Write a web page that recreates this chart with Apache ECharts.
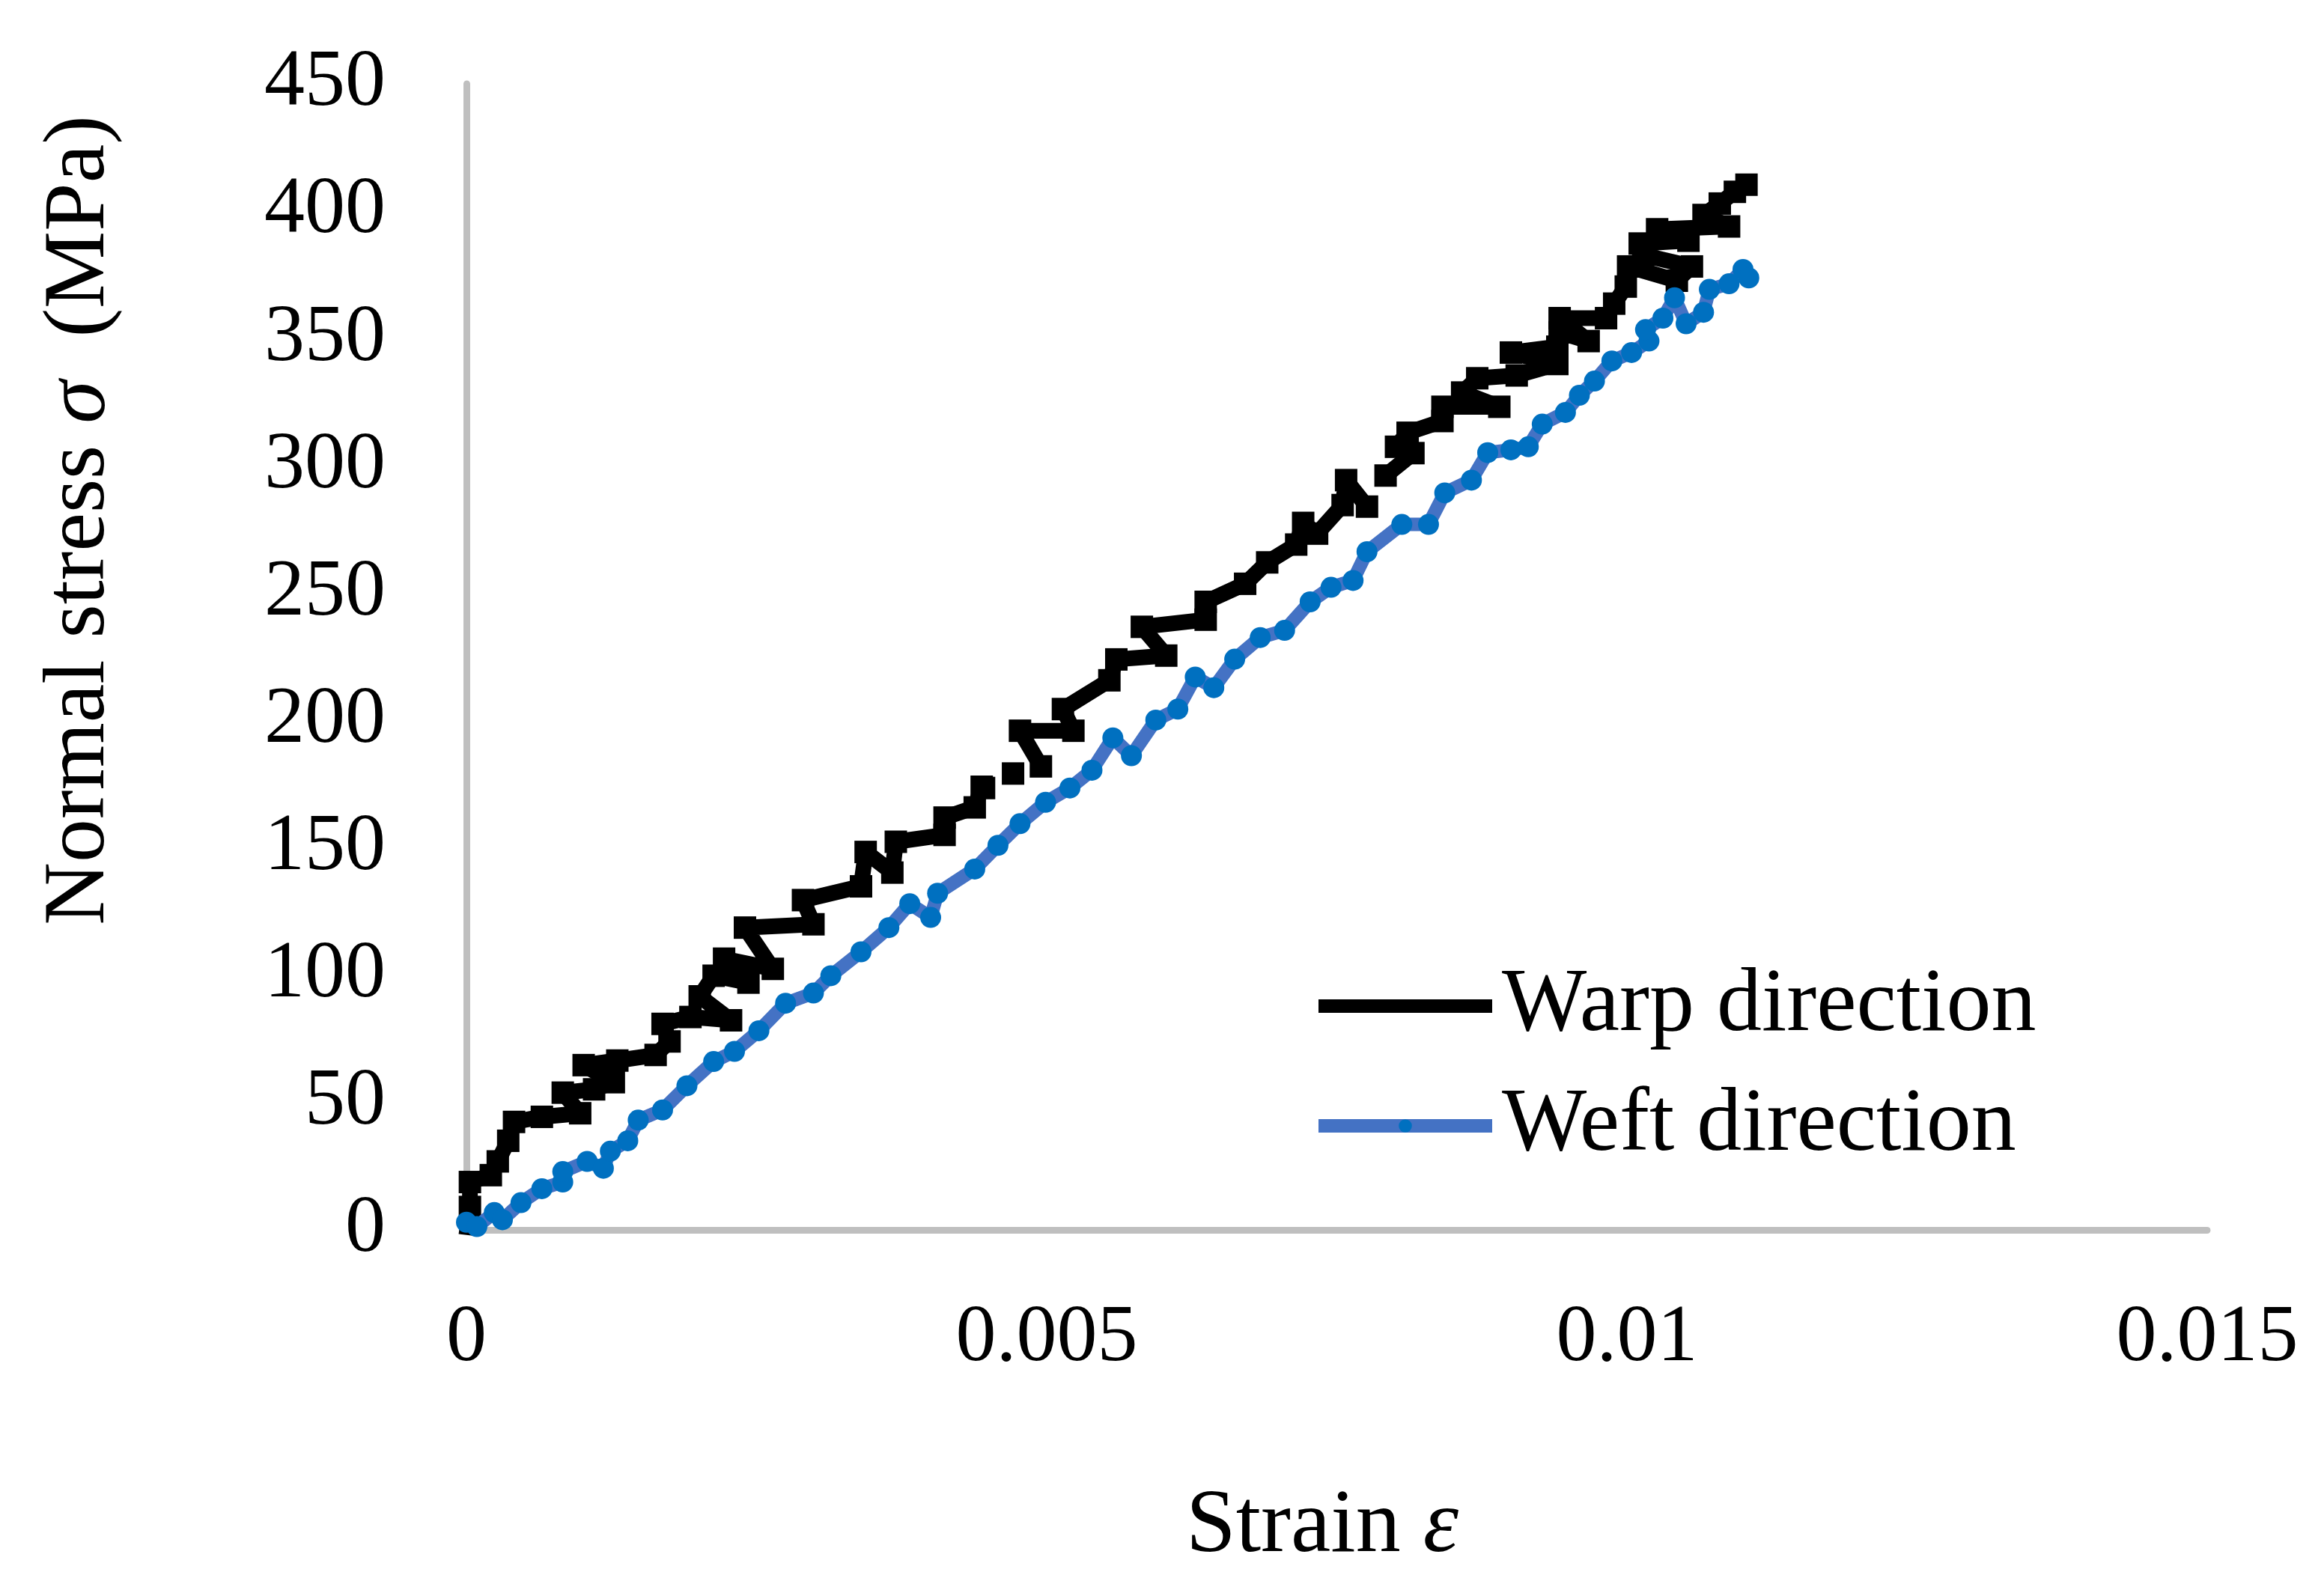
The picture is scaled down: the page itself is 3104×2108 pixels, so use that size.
<!DOCTYPE html>
<html>
<head>
<meta charset="utf-8">
<script src="https://cdn.jsdelivr.net/npm/echarts@6/dist/echarts.min.js"></script>
<style>
html,body{margin:0;padding:0;background:#fff;}
#chart{width:3104px;height:2108px;}
</style>
</head>
<body>
<div id="chart"></div>
<script>
// ---- data ----
const seriesNames = ['Warp direction', 'Weft direction'];

const warpStrain = [0, 0.00003, 0.00003, 0.00021, 0.00027, 0.00036, 0.00041, 0.00065, 0.00098, 0.00083,
  0.0011, 0.00127, 0.00101, 0.0013, 0.00163, 0.00175, 0.00169, 0.00193, 0.00228, 0.00201,
  0.00213, 0.00243, 0.00222, 0.00264, 0.0024, 0.00299, 0.0029, 0.0034, 0.00344, 0.00367,
  0.0037, 0.00412, 0.00412, 0.00438, 0.00444, null, 0.00446, null, 0.00471, null,
  0.00495, 0.00477, 0.00523, 0.00514, 0.00554, 0.0056, 0.00603, 0.00582, 0.00637, 0.00637,
  0.00671, 0.0069, 0.00715, 0.00721, 0.00733, 0.00755, 0.00758, 0.00776, null,
  0.00792, 0.00816, 0.00801, 0.00811, 0.00841, 0.00841, 0.0089, 0.00858, 0.00871, 0.00905,
  0.0094, 0.009, 0.0094, 0.00942, 0.00967, 0.00942, 0.00982, 0.00989, 0.00999, 0.01001,
  0.01043, 0.01056, 0.01014, 0.01011, 0.01053, 0.01026, 0.01088, 0.01066, 0.0108, 0.01093, 0.01103];
const warpStress = [-2, 9, 18.8, 21.5, 26.9, 35, 42.4, 44.4, 45.8, 53.9,
  55.2, 58, 64.7, 66.5, 68.7, 74, 80.9, 83.6, 82.3, 91.7,
  99.8, 97.1, 106.5, 102.5, 118.7, 120, 129.5, 134.9, 148.4, 140.3,
  152.4, 155.1, 161.9, 165.9, 174, null, 173.5, null, 179.2, null,
  182, 196, 196, 204.5, 215.8, 224, 225.5, 236.8, 239.6, 246.6,
  253.7, 262.1, 269.1, 277.6, 273.4, 284.6, 294.4, 284, null,
  296.2, 305, 307.5, 313, 317.6, 323.2, 323.2, 328.8, 334.4, 335.5,
  340, 344.5, 346.8, 352.4, 349, 358, 358, 363.7, 370.4, 378.3,
  372.7, 378.3, 382.8, 387.3, 388.4, 392.9, 394, 398.5, 403, 407.6, 410.4];

const weftStrain = [0, 0.00009, 0.00024, 0.00031, 0.00047, 0.00065, 0.00083, 0.00083, 0.00104, 0.00118,
  0.00124, 0.00139, 0.00148, 0.00169, 0.0019, 0.00213, 0.00231, 0.00252, 0.00275, 0.00299,
  0.00314, 0.0034, 0.00364, 0.00382, 0.004, 0.00406, 0.00438, 0.00458, 0.00477, 0.00499,
  0.0052, 0.00539, 0.00557, 0.00573, 0.00594, 0.00613, 0.00628, 0.00644, 0.00662, 0.00684,
  0.00705, 0.00727, 0.00745, 0.00764, 0.00776, 0.00806, 0.00829, 0.00843, 0.00866, 0.0088,
  0.009, 0.00915, 0.00927, 0.00947, 0.00959, 0.00972, 0.00987, 0.01004, 0.01019, 0.01016,
  0.01031, 0.01041, 0.01051, 0.01066, 0.01071, 0.01088, 0.011, 0.01105];
const weftStress = [3, 1.3, 6.8, 4, 10.7, 16.2, 18.8, 22.9, 26.9, 24.2,
  30.9, 35, 43.1, 47.1, 56.6, 66.1, 70.1, 78.2, 89, 93,
  99.8, 109.2, 118.7, 128.1, 122.7, 132.2, 141.7, 151, 159.5, 167.9,
  173.5, 180.5, 193.2, 186.2, 200.2, 204.5, 217.1, 212.9, 224.1, 232.6,
  235.4, 246.6, 252.3, 255, 266.3, 277, 277, 289.4, 294.4, 305.2,
  306.3, 307.5, 316.4, 321, 327.7, 333.3, 341.2, 344.5, 349, 353.5,
  358, 366, 355.8, 360.3, 369.3, 371.5, 377.1, 373.8];

const xTicks = [0, 0.005, 0.01, 0.015];
const yTicks = [0, 50, 100, 150, 200, 250, 300, 350, 400, 450];

// ---- chart ----
function pairs(xs, ys) {
  return xs.map((x, i) => (x === null ? ['-', '-'] : [x, ys[i]]));
}

const FONT = "'Liberation Serif', 'Times New Roman', serif";
const chart = echarts.init(document.getElementById('chart'), null, { renderer: 'canvas' });

chart.setOption({
  backgroundColor: '#ffffff',
  animation: false,
  grid: { left: 623, top: 112, right: 156, bottom: 465, containLabel: false },
  xAxis: {
    type: 'value',
    min: xTicks[0], max: xTicks[xTicks.length - 1], interval: xTicks[1] - xTicks[0],
    axisLine: { show: true, onZero: false, lineStyle: { color: '#BFBFBF', width: 9 } },
    axisTick: { show: false },
    splitLine: { show: false },
    axisLabel: { margin: 92, fontSize: 108, fontFamily: FONT, color: '#000',
      formatter: v => String(xTicks.find(t => Math.abs(t - v) < 1e-9) ?? v) }
  },
  yAxis: {
    type: 'value',
    min: yTicks[0], max: yTicks[yTicks.length - 1], interval: yTicks[1] - yTicks[0],
    axisLine: { show: true, onZero: false, lineStyle: { color: '#BFBFBF', width: 9 } },
    axisTick: { show: false },
    splitLine: { show: false },
    axisLabel: { margin: 108, fontSize: 108, fontFamily: FONT, color: '#000' }
  },
  legend: {
    orient: 'vertical',
    left: 1752, top: 1284, padding: 0,
    itemWidth: 232, itemHeight: 22, itemGap: 40,
    lineStyle: { width: 18 },
    textStyle: { fontSize: 120, lineHeight: 120, fontFamily: FONT, color: '#000', padding: [0, 0, 0, 8] },
    data: seriesNames
  },
  graphic: [
    {
      type: 'text', x: 108, y: 695, rotation: Math.PI / 2,
      style: {
        text: '{n|Normal stress }{i|σ}{n|  (MPa)}',
        align: 'center', verticalAlign: 'middle',
        rich: {
          n: { fontSize: 116, fontFamily: FONT, fill: '#000' },
          i: { fontSize: 116, fontFamily: FONT, fontStyle: 'italic', fill: '#000' }
        }
      }
    },
    {
      type: 'text', x: 1766, y: 2040,
      style: {
        text: '{n|Strain }{i|ε}',
        align: 'center', verticalAlign: 'middle',
        rich: {
          n: { fontSize: 120, fontFamily: FONT, fill: '#000' },
          i: { fontSize: 120, fontFamily: FONT, fontStyle: 'italic', fill: '#000' }
        }
      }
    }
  ],
  series: [
    {
      name: seriesNames[0], type: 'line',
      data: pairs(warpStrain, warpStress),
      connectNulls: false,
      symbol: 'rect', symbolSize: 30, showSymbol: true,
      lineStyle: { color: '#000000', width: 21 },
      itemStyle: { color: '#000000' },
      z: 2
    },
    {
      name: seriesNames[1], type: 'line',
      data: pairs(weftStrain, weftStress),
      connectNulls: false,
      symbol: 'circle', symbolSize: 28, showSymbol: true,
      lineStyle: { color: '#4472C4', width: 18 },
      itemStyle: { color: '#0070C0' },
      z: 3
    }
  ]
});
</script>
</body>
</html>
